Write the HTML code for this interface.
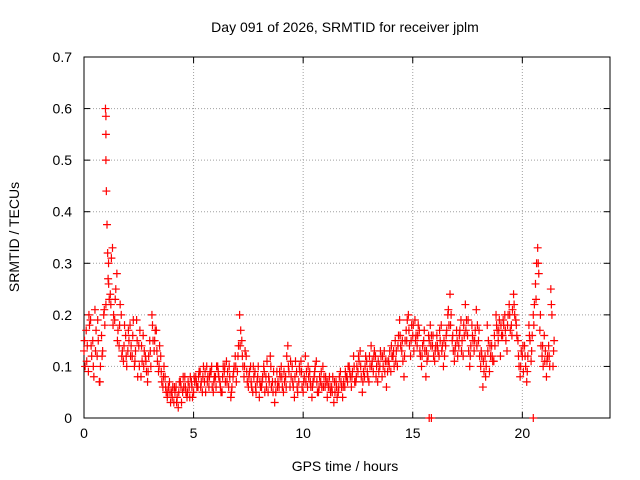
<!DOCTYPE html>
<html><head><meta charset="utf-8"><style>
body{margin:0;background:#fff}
svg{display:block;font-family:"Liberation Sans",sans-serif}
</style></head><body>
<svg id="c" width="640" height="480">
<rect width="640" height="480" fill="#fff"/>
</svg>
<script>
const xTicks=[0,5,10,15,20];
const yTicks=[0,0.1,0.2,0.3,0.4,0.5,0.6,0.7];
const hours=[];
const tec=[];
const segStarts=[0,1.1,2.1,3.1,4.1,5.1,6.1,7.1,8.1,9.1,10.1,11.1,12.1,13.1,14.1,15.1,16.1,17.1,18.1,19.1,20.1,21.1];
const segVals=[
[0.13,0.17,0.09,0.19,0.15,0.21,0.12,0.07,0.16,0.2,0.22],
[0.27,0.24,0.33,0.19,0.28,0.14,0.2,0.11,0.16,0.13],
[0.18,0.12,0.1,0.19,0.14,0.08,0.16,0.12,0.07,0.15],
[0.2,0.13,0.17,0.09,0.12,0.06,0.08,0.04,0.07,0.05],
[0.03,0.06,0.02,0.07,0.05,0.08,0.04,0.06,0.07,0.05],
[0.08,0.06,0.09,0.05,0.07,0.1,0.06,0.09,0.05,0.08],
[0.1,0.07,0.05,0.09,0.11,0.06,0.04,0.08,0.12,0.09],
[0.2,0.15,0.08,0.12,0.06,0.1,0.05,0.09,0.07,0.04],
[0.06,0.1,0.08,0.05,0.12,0.07,0.03,0.09,0.06,0.1],
[0.05,0.08,0.14,0.06,0.1,0.04,0.09,0.07,0.11,0.05],
[0.12,0.06,0.09,0.04,0.08,0.11,0.05,0.07,0.1,0.06],
[0.04,0.08,0.06,0.03,0.07,0.05,0.09,0.04,0.06,0.08],
[0.1,0.06,0.12,0.07,0.09,0.13,0.05,0.08,0.11,0.07],
[0.14,0.09,0.12,0.07,0.1,0.08,0.13,0.06,0.11,0.09],
[0.12,0.15,0.1,0.19,0.13,0.08,0.17,0.2,0.12,0.16],
[0.19,0.14,0.17,0.1,0.15,0.08,0.12,0.18,0.14,0.11],
[0.16,0.12,0.18,0.1,0.14,0.2,0.24,0.15,0.11,0.17],
[0.14,0.19,0.12,0.22,0.16,0.1,0.18,0.13,0.21,0.15],
[0.1,0.06,0.12,0.18,0.09,0.14,0.11,0.2,0.15,0.12],
[0.16,0.2,0.13,0.22,0.18,0.24,0.19,0.15,0.08,0.12],
[0.14,0.07,0.18,0.11,0.2,0.26,0.33,0.17,0.12,0.16],
[0.08,0.14,0.25,0.1]];
const segVals2=[
[0.1,0.14,0.18,0.12,0.08,0.17,0.15,0.1,0.13,0.18],
[0.23,0.31,0.2,0.25,0.17,0.22,0.13,0.18,0.1,0.15],
[0.14,0.19,0.13,0.08,0.17,0.11,0.13,0.09,0.12,0.1],
[0.15,0.17,0.11,0.14,0.07,0.1,0.05,0.06,0.03,0.06],
[0.05,0.04,0.07,0.03,0.06,0.05,0.07,0.08,0.04,0.07],
[0.06,0.09,0.07,0.1,0.05,0.08,0.09,0.06,0.08,0.1],
[0.08,0.05,0.1,0.07,0.09,0.08,0.06,0.1,0.07,0.14],
[0.17,0.1,0.13,0.07,0.09,0.06,0.08,0.05,0.1,0.06],
[0.08,0.05,0.11,0.07,0.06,0.09,0.05,0.07,0.08,0.06],
[0.07,0.12,0.09,0.08,0.06,0.11,0.05,0.09,0.06,0.08],
[0.09,0.08,0.06,0.07,0.1,0.05,0.08,0.06,0.08,0.07],
[0.06,0.05,0.08,0.05,0.04,0.08,0.06,0.07,0.08,0.1],
[0.08,0.09,0.07,0.1,0.11,0.08,0.09,0.12,0.08,0.1],
[0.11,0.13,0.1,0.09,0.12,0.1,0.11,0.09,0.13,0.12],
[0.1,0.13,0.16,0.14,0.11,0.15,0.19,0.14,0.18,0.13],
[0.16,0.18,0.12,0.14,0.13,0.11,0.15,0.16,0.12,0.14],
[0.13,0.15,0.14,0.12,0.17,0.18,0.2,0.13,0.14,0.12],
[0.17,0.15,0.16,0.19,0.13,0.14,0.15,0.17,0.18,0.12],
[0.12,0.09,0.1,0.15,0.12,0.11,0.14,0.17,0.19,0.16],
[0.18,0.15,0.2,0.17,0.21,0.2,0.16,0.1,0.13,0.09],
[0.1,0.12,0.15,0.16,0.22,0.3,0.28,0.14,0.1,0.13],
[0.12,0.1,0.2,0.15]];
const segVals3=[
[0.15,0.11,0.2,0.14,0.1,0.13,0.19,0.07,0.12,0.21],
[0.26,0.22,0.18,0.23,0.15,0.18,0.12,0.14,0.12,0.17],
[0.12,0.16,0.11,0.15,0.1,0.14,0.1,0.11,0.09,0.13],
[0.18,0.15,0.13,0.1,0.09,0.08,0.06,0.05,0.05,0.04],
[0.06,0.03,0.05,0.06,0.08,0.06,0.05,0.04,0.06,0.08],
[0.07,0.08,0.06,0.08,0.09,0.07,0.08,0.1,0.07,0.06],
[0.09,0.06,0.08,0.1,0.07,0.1,0.05,0.09,0.1,0.12],
[0.14,0.12,0.1,0.09,0.08,0.07,0.1,0.06,0.08,0.07],
[0.07,0.09,0.06,0.08,0.1,0.05,0.07,0.06,0.09,0.08],
[0.09,0.06,0.1,0.11,0.07,0.08,0.06,0.1,0.09,0.07],
[0.07,0.1,0.07,0.06,0.09,0.07,0.06,0.09,0.06,0.08],
[0.07,0.06,0.05,0.07,0.06,0.06,0.07,0.06,0.09,0.07],
[0.09,0.08,0.1,0.08,0.12,0.1,0.07,0.1,0.09,0.12],
[0.1,0.12,0.08,0.11,0.13,0.12,0.09,0.11,0.1,0.14],
[0.13,0.11,0.14,0.16,0.15,0.12,0.15,0.17,0.15,0.18],
[0.15,0.16,0.13,0.12,0.17,0.13,0.16,0.14,0.16,0.13],
[0.14,0.17,0.13,0.15,0.16,0.21,0.18,0.16,0.13,0.15],
[0.16,0.13,0.18,0.17,0.19,0.12,0.16,0.15,0.14,0.17],
[0.13,0.11,0.08,0.13,0.14,0.12,0.16,0.18,0.17,0.18],
[0.19,0.17,0.18,0.2,0.16,0.22,0.18,0.12,0.1,0.14],
[0.12,0.09,0.16,0.13,0.18,0.23,0.3,0.2,0.14,0.11],
[0.11,0.12,0.22,0.13]];
const spikeHours=[0.98,1.0,1.0,1.0,1.02,1.05,1.08,1.12,15.75,15.85,20.5];
const spikeVals=[0.6,0.585,0.55,0.5,0.44,0.375,0.32,0.3,0,0,0];
segStarts.forEach((s,i)=>{segVals[i].forEach((v,j)=>{hours.push(s+j*0.1);tec.push(v);});
 segVals2[i].forEach((v,j)=>{hours.push(s+j*0.1+0.05);tec.push(v);});
 segVals3[i].forEach((v,j)=>{hours.push(s+j*0.1+0.025);tec.push(v);});});
spikeHours.forEach((h,i)=>{hours.push(h);tec.push(spikeVals[i]);});

const L=84,R=610,T=57,B=418;
const xs=h=>L+h/24*(R-L);
const ys=v=>B-v/0.7*(B-T);
const svg=document.getElementById('c');
const NS='http://www.w3.org/2000/svg';
function mk(tag,a,parent){const e=document.createElementNS(NS,tag);for(const k in a)e.setAttribute(k,a[k]);(parent||svg).appendChild(e);return e;}
const grid=mk('g',{});


xTicks.forEach(t=>{if(t>0)mk('line',{x1:xs(t),x2:xs(t),y1:T,y2:B,stroke:'#a0a0a0','stroke-dasharray':'1,2'},grid);});
yTicks.forEach(t=>{if(t>0&&t<0.7)mk('line',{x1:L,x2:R,y1:ys(t),y2:ys(t),stroke:'#a0a0a0','stroke-dasharray':'1,2'},grid);});
const ax=mk('g',{});


mk('rect',{x:L,y:T,width:R-L,height:B-T,fill:'none',stroke:'#000'},ax);
xTicks.forEach(t=>{const x=xs(t);mk('line',{x1:x,x2:x,y1:B,y2:B-6,stroke:'#000'},ax);mk('line',{x1:x,x2:x,y1:T,y2:T+6,stroke:'#000'},ax);
 const tx=mk('text',{x:x,y:B+20,'text-anchor':'middle','font-size':14},ax);tx.textContent=t;
 
 });
yTicks.forEach(t=>{const y=ys(t);mk('line',{x1:L,x2:L+6,y1:y,y2:y,stroke:'#000'},ax);mk('line',{x1:R,x2:R-6,y1:y,y2:y,stroke:'#000'},ax);
 const tx=mk('text',{x:L-12,y:y+5,'text-anchor':'end','font-size':14},ax);tx.textContent=t===0?'0':t.toFixed(1);
 
 });
const pts=mk('g',{stroke:'#f00','stroke-width':1.2});


hours.forEach((h,i)=>{const x=xs(h),y=ys(tec[i]);
 const p=mk('path',{d:`M${x-4},${y}h8M${x},${y-4}v8`},pts);
 
 });
const title=mk('text',{x:345,y:32,'text-anchor':'middle','font-size':14});
title.textContent='Day 091 of 2026, SRMTID for receiver jplm';


const xl=mk('text',{x:345,y:471,'text-anchor':'middle','font-size':14});
xl.textContent='GPS time / hours';


const yl=mk('text',{x:0,y:0,'text-anchor':'middle','font-size':14,transform:'translate(19,237) rotate(-90)'});
yl.textContent='SRMTID / TECUs';


</script>
</body></html>
